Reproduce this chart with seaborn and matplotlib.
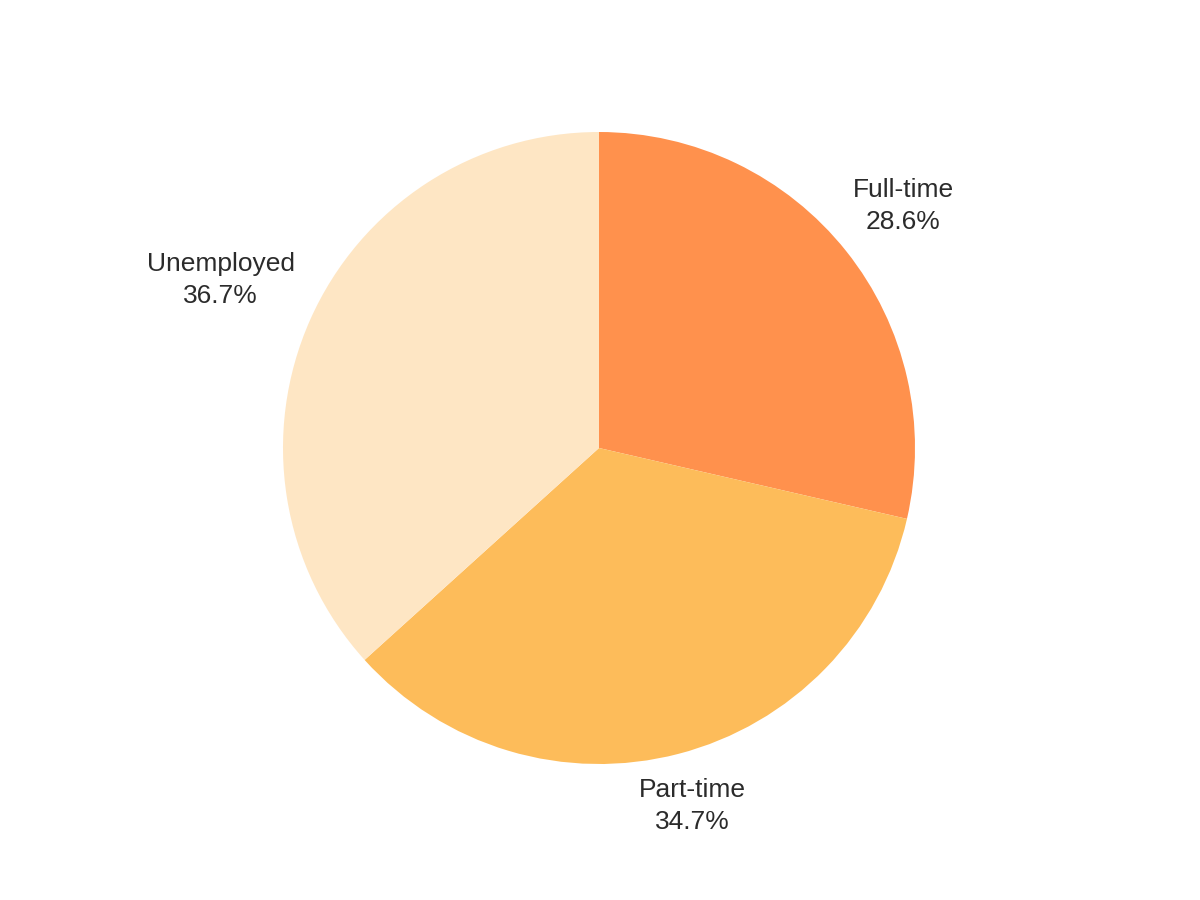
import numpy as np
import matplotlib.pyplot as plt
import seaborn as sns

# data
categories = ["Full-time", "Part-time", "Unemployed"]
shares = [28.6, 34.7, 36.7]
colors = ["#FF914D", "#FDBC5A", "#FEE6C4"]

sns.set_theme(style="white")
plt.rcParams['font.family'] = ['Liberation Sans', 'DejaVu Sans']

fig = plt.figure(figsize=(12, 9), dpi=100)
ax = fig.add_axes([0, 0, 1, 1])

R = 316  # pie radius in pixels
cx, cy = 599, 448
wedges, _ = ax.pie(shares, colors=colors, startangle=90, counterclock=False,
                   radius=1, wedgeprops=dict(linewidth=0))

# label distances (in radii) for each slice
label_r = [1.23, 1.17, 1.31]
for w, name, val, d in zip(wedges, categories, shares, label_r):
    ang = np.deg2rad((w.theta1 + w.theta2) / 2)
    ax.text(d * np.cos(ang), d * np.sin(ang), f"{name}\n{val:.1f}%",
            ha="center", va="center", fontsize=19, color="#2b2b2b",
            linespacing=1.4)

ax.set_xlim(-cx / R, (1200 - cx) / R)
ax.set_ylim(-(900 - cy) / R, cy / R)
ax.set_aspect("equal")
ax.axis("off")

fig.savefig("out.png", dpi=100, facecolor="white")
